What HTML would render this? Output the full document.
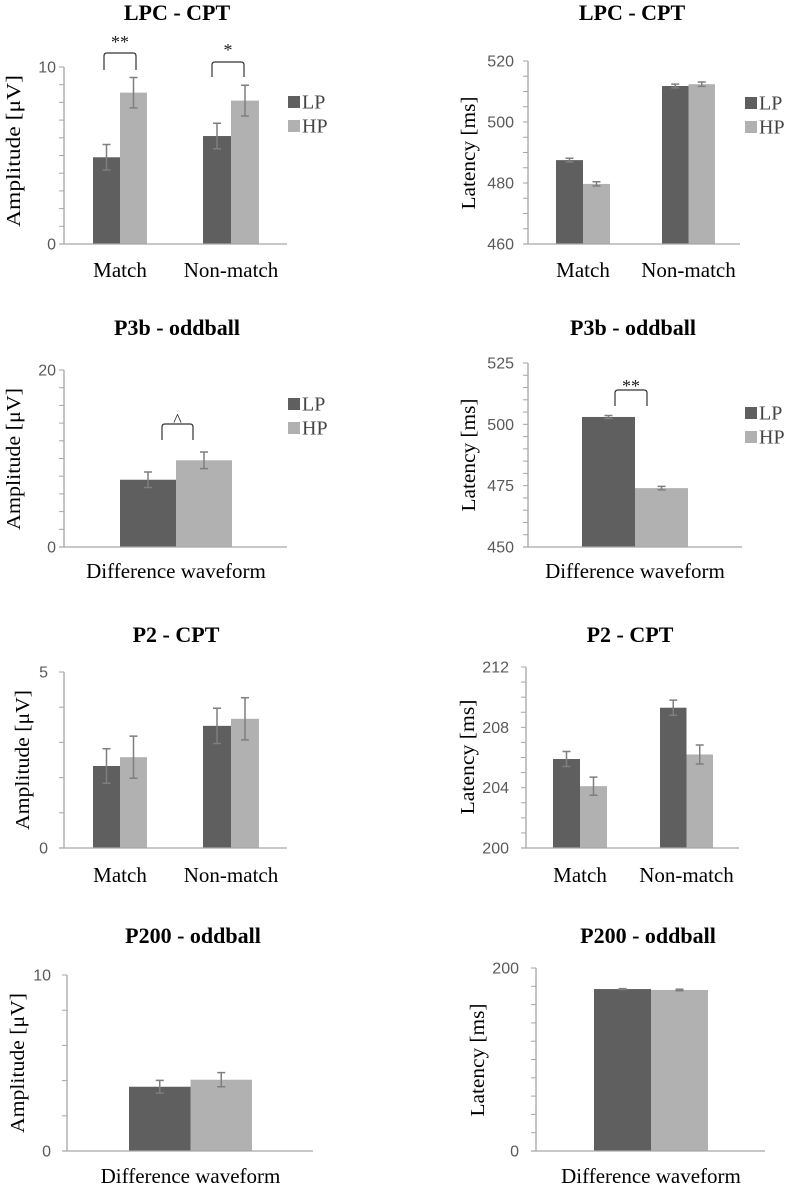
<!DOCTYPE html>
<html><head><meta charset="utf-8">
<style>
html,body{margin:0;padding:0;background:#fff;}
svg{display:block;}
.serif{font-family:"Liberation Serif",serif;}
.sans{font-family:"Liberation Sans",sans-serif;}
</style></head>
<body>
<svg id="fig" width="793" height="1188" viewBox="0 0 793 1188" xmlns="http://www.w3.org/2000/svg"></svg>
<script>
// ---- data ----
const seriesNames = ["LP", "HP"];
const cptCategories = ["Match", "Non-match"];
const oddCategories = ["Difference waveform"];

const lpcAmpLP = [4.9, 6.1];
const lpcAmpHP = [8.55, 8.1];
const lpcAmpLPErr = [0.72, 0.72];
const lpcAmpHPErr = [0.86, 0.87];
const lpcAmpTicks = [0, 10];

const lpcLatLP = [487.5, 511.8];
const lpcLatHP = [479.7, 512.4];
const lpcLatLPErr = [0.6, 0.6];
const lpcLatHPErr = [0.7, 0.7];
const lpcLatTicks = [460, 480, 500, 520];

const p3bAmpLP = [7.6];
const p3bAmpHP = [9.8];
const p3bAmpLPErr = [0.87];
const p3bAmpHPErr = [0.94];
const p3bAmpTicks = [0, 20];

const p3bLatLP = [503];
const p3bLatHP = [474];
const p3bLatLPErr = [0.6];
const p3bLatHPErr = [0.7];
const p3bLatTicks = [450, 475, 500, 525];

const p2AmpLP = [2.33, 3.47];
const p2AmpHP = [2.58, 3.67];
const p2AmpLPErr = [0.49, 0.5];
const p2AmpHPErr = [0.6, 0.6];
const p2AmpTicks = [0, 5];

const p2LatLP = [205.9, 209.3];
const p2LatHP = [204.1, 206.2];
const p2LatLPErr = [0.5, 0.5];
const p2LatHPErr = [0.6, 0.63];
const p2LatTicks = [200, 204, 208, 212];

const p200AmpLP = [3.65];
const p200AmpHP = [4.05];
const p200AmpLPErr = [0.36];
const p200AmpHPErr = [0.4];
const p200AmpTicks = [0, 10];

const p200LatLP = [177];
const p200LatHP = [176];
const p200LatLPErr = [0.5];
const p200LatHPErr = [0.8];
const p200LatTicks = [0, 200];

// ---- layout ----
const NS = "http://www.w3.org/2000/svg";
const svg = document.getElementById("fig");
function mk(tag, parent){ const e=document.createElementNS(NS,tag); parent.appendChild(e); return e; }

const panels = [
 {id:"lpc-amplitude", title:"LPC - CPT", tx:177, ty:20, ax:64, right:287, top:67, bottom:244, min:0, max:10, minor:10,
  cats:cptCategories, lp:lpcAmpLP, hp:lpcAmpHP, lpe:lpcAmpLPErr, hpe:lpcAmpHPErr, ticks:lpcAmpTicks,
  groups:[[93,27],[203,28]], catY:277, ytitle:"Amplitude [\u03BCV]", ytx:13, yty:151, ytl:152, tickRight:56,
  legend:[288,96], sig:[[104,136,53,70,"**",42],[212,244,62,77,"*",50]]},
 {id:"lpc-latency", title:"LPC - CPT", tx:632, ty:20, ax:528, right:740, top:61, bottom:244, min:460, max:520, minor:12,
  cats:cptCategories, lp:lpcLatLP, hp:lpcLatHP, lpe:lpcLatLPErr, hpe:lpcLatHPErr, ticks:lpcLatTicks,
  groups:[[556,27],[662,26.5]], catY:277, ytitle:"Latency [ms]", ytx:468, yty:153, ytl:113, tickRight:514,
  legend:[745,97], sig:[]},
 {id:"p3b-amplitude", title:"P3b - oddball", tx:177, ty:335, ax:64, right:287, top:370, bottom:547, min:0, max:20, minor:10,
  cats:oddCategories, lp:p3bAmpLP, hp:p3bAmpHP, lpe:p3bAmpLPErr, hpe:p3bAmpHPErr, ticks:p3bAmpTicks,
  groups:[[120,56]], catY:578, ytitle:"Amplitude [\u03BCV]", ytx:13, yty:459, ytl:142, tickRight:56,
  legend:[288,398], sig:[[162,193,424,440,"^",420]]},
 {id:"p3b-latency", title:"P3b - oddball", tx:633, ty:335, ax:528, right:742, top:363, bottom:547, min:450, max:525, minor:15,
  cats:oddCategories, lp:p3bLatLP, hp:p3bLatHP, lpe:p3bLatLPErr, hpe:p3bLatHPErr, ticks:p3bLatTicks,
  groups:[[582,53]], catY:578, ytitle:"Latency [ms]", ytx:468, yty:455, ytl:113, tickRight:514,
  legend:[745,407], sig:[[615,647,390,406,"**",386]]},
 {id:"p2-amplitude", title:"P2 - CPT", tx:176, ty:642, ax:64, right:287, top:672, bottom:848, min:0, max:5, minor:5,
  cats:cptCategories, lp:p2AmpLP, hp:p2AmpHP, lpe:p2AmpLPErr, hpe:p2AmpHPErr, ticks:p2AmpTicks,
  groups:[[93,27],[203,28]], catY:882, ytitle:"Amplitude [\u03BCV]", ytx:22, yty:760, ytl:140, tickRight:48,
  legend:null, sig:[]},
 {id:"p2-latency", title:"P2 - CPT", tx:630, ty:642, ax:526, right:739, top:667, bottom:848, min:200, max:212, minor:12,
  cats:cptCategories, lp:p2LatLP, hp:p2LatHP, lpe:p2LatLPErr, hpe:p2LatHPErr, ticks:p2LatTicks,
  groups:[[553,27],[660,26.5]], catY:882, ytitle:"Latency [ms]", ytx:467, yty:757, ytl:115, tickRight:509,
  legend:null, sig:[]},
 {id:"p200-amplitude", title:"P200 - oddball", tx:193, ty:943, ax:67, right:313, top:975, bottom:1151, min:0, max:10, minor:5,
  cats:oddCategories, lp:p200AmpLP, hp:p200AmpHP, lpe:p200AmpLPErr, hpe:p200AmpHPErr, ticks:p200AmpTicks,
  groups:[[129,61.5]], catY:1183, ytitle:"Amplitude [\u03BCV]", ytx:17, yty:1063, ytl:140, tickRight:51,
  legend:null, sig:[]},
 {id:"p200-latency", title:"P200 - oddball", tx:648, ty:943, ax:536, right:765, top:968, bottom:1151, min:0, max:200, minor:10,
  cats:oddCategories, lp:p200LatLP, hp:p200LatHP, lpe:p200LatLPErr, hpe:p200LatHPErr, ticks:p200LatTicks,
  groups:[[594,57]], catY:1183, ytitle:"Latency [ms]", ytx:477, yty:1060, ytl:113, tickRight:519,
  legend:null, sig:[]}
];

const LPC = "#5f5f5f", HPC = "#b1b1b1", AXC = "#a6a6a6", ERRC = "#7f7f7f";

panels.forEach(p => {
  const g = mk("g", svg);
  
  
  const y = v => p.bottom - (v - p.min) / (p.max - p.min) * (p.bottom - p.top);

  const t = mk("text", g);
  
  
  t.setAttribute("x", p.tx); t.setAttribute("y", p.ty);
  t.setAttribute("text-anchor", "middle"); t.setAttribute("class", "serif");
  t.setAttribute("font-size", "22"); t.setAttribute("font-weight", "bold");
  t.textContent = p.title;

  const ya = mk("line", g);
  
  
  ya.setAttribute("x1", p.ax); ya.setAttribute("x2", p.ax); ya.setAttribute("y1", p.top); ya.setAttribute("y2", p.bottom);
  ya.setAttribute("stroke", AXC); ya.setAttribute("stroke-width", "1.3");
  for (let i = 0; i <= p.minor; i++) {
    const v = p.min + (p.max - p.min) * i / p.minor;
    const tk = mk("line", g);
    
    
    tk.setAttribute("x1", p.ax - 5); tk.setAttribute("x2", p.ax); tk.setAttribute("y1", y(v)); tk.setAttribute("y2", y(v));
    tk.setAttribute("stroke", AXC); tk.setAttribute("stroke-width", "1");
  }
  p.ticks.forEach(v => {
    const tl = mk("text", g);
    
    
    tl.setAttribute("x", p.tickRight); tl.setAttribute("y", y(v) + 5.5);
    tl.setAttribute("text-anchor", "end"); tl.setAttribute("class", "sans");
    tl.setAttribute("font-size", "16"); tl.setAttribute("fill", "#595959");
    tl.textContent = v;
  });
  const yt = mk("text", g);
  
  
  yt.setAttribute("transform", `translate(${p.ytx + 7},${p.yty}) rotate(-90)`);
  yt.setAttribute("text-anchor", "middle"); yt.setAttribute("class", "serif");
  yt.setAttribute("font-size", "20");
  yt.setAttribute("textLength", p.ytl); yt.setAttribute("lengthAdjust", "spacingAndGlyphs");
  yt.textContent = p.ytitle;

  p.cats.forEach((c, i) => {
    const [gx, bw] = p.groups[i];
    [[p.lp, p.lpe, LPC, "lp"], [p.hp, p.hpe, HPC, "hp"]].forEach(([vals, errs, col, nm], s) => {
      const x0 = gx + s * bw;
      const r = mk("rect", g);
      
      
      r.setAttribute("x", x0); r.setAttribute("width", bw);
      r.setAttribute("y", y(vals[i])); r.setAttribute("height", p.bottom - y(vals[i]));
      r.setAttribute("fill", col);
      const cx = x0 + bw / 2, yh = y(vals[i] + errs[i]), yl = y(vals[i] - errs[i]);
      const e = mk("path", g);
      
      
      e.setAttribute("d", `M${cx},${yh}V${yl}M${cx-4},${yh}H${cx+4}M${cx-4},${yl}H${cx+4}`);
      e.setAttribute("stroke", ERRC); e.setAttribute("stroke-width", "1.5"); e.setAttribute("fill", "none");
    });
    const cl = mk("text", g);
    
    
    cl.setAttribute("x", gx + bw); cl.setAttribute("y", p.catY);
    cl.setAttribute("text-anchor", "middle"); cl.setAttribute("class", "serif");
    cl.setAttribute("font-size", "21");
    cl.textContent = c;
  });
  const xa = mk("line", g);
  
  
  xa.setAttribute("x1", p.ax - 5); xa.setAttribute("x2", p.right); xa.setAttribute("y1", p.bottom); xa.setAttribute("y2", p.bottom);
  xa.setAttribute("stroke", AXC); xa.setAttribute("stroke-width", "1.3");

  p.sig.forEach(([x1, x2, yt2, yb, lab, ly]) => {
    const b = mk("path", g);
    
    
    b.setAttribute("d", `M${x1},${yb}V${yt2+3}Q${x1},${yt2} ${x1+3},${yt2}H${x2-3}Q${x2},${yt2} ${x2},${yt2+3}V${yb}`);
    b.setAttribute("stroke", "#333"); b.setAttribute("stroke-width", "1.2"); b.setAttribute("fill", "none");
    const st = mk("text", g);
    
    
    st.setAttribute("x", (x1 + x2) / 2); st.setAttribute("y", ly + 6);
    st.setAttribute("text-anchor", "middle"); st.setAttribute("class", "serif");
    st.setAttribute("font-size", "18"); st.setAttribute("fill", "#222");
    st.textContent = lab;
  });

  if (p.legend) {
    const [lx, ly] = p.legend;
    [[LPC, seriesNames[0]], [HPC, seriesNames[1]]].forEach(([col, nm], k) => {
      const sq = mk("rect", g);
      
      
      sq.setAttribute("x", lx); sq.setAttribute("y", ly + k * 24); sq.setAttribute("width", 12); sq.setAttribute("height", 12);
      sq.setAttribute("fill", col);
      const lt = mk("text", g);
      
      
      lt.setAttribute("x", lx + 14); lt.setAttribute("y", ly + k * 24 + 12.5);
      lt.setAttribute("class", "serif"); lt.setAttribute("font-size", "20"); lt.setAttribute("fill", "#444");
      lt.textContent = nm;
    });
  }
});
</script>
</body></html>
